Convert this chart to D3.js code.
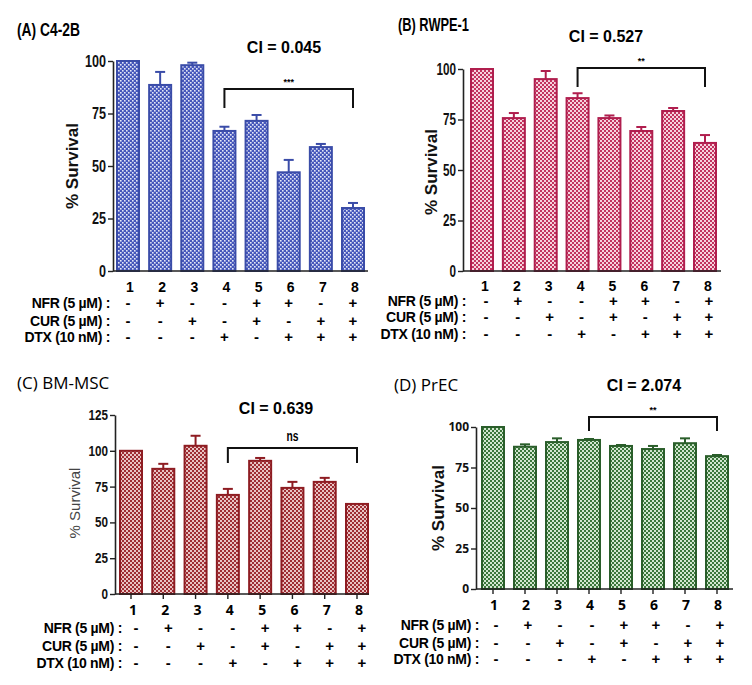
<!DOCTYPE html>
<html>
<head>
<meta charset="utf-8">
<script src="https://cdn.jsdelivr.net/npm/d3@7"></script>
<style>
  body { margin: 0; background: #fff; }
  svg { display: block; }
</style>
</head>
<body>
<div id="chart"></div>
<script>
// treatment groups and the +/- table under each panel
const groups = ["1", "2", "3", "4", "5", "6", "7", "8"];
const nfr = ["-", "+", "-", "-", "+", "+", "-", "+"];
const cur = ["-", "-", "+", "-", "+", "-", "+", "+"];
const dtx = ["-", "-", "-", "+", "-", "+", "+", "+"];
const rowNames = ["NFR (5 µM) :", "CUR (5 µM) :", "DTX (10 nM) :"];

// % survival (mean, upper error)
const c42bMean = [100, 88.6, 98, 66.7, 71.5, 47, 59, 30];
const c42bErr  = [0, 6.2, 1.2, 2, 2.8, 5.9, 1.5, 2.4];
const rwpeMean = [100, 75.7, 95, 85.6, 75.7, 69.3, 79.2, 63.4];
const rwpeErr  = [0, 2.5, 4, 2.4, 1.3, 2, 1.5, 3.9];
const bmscMean = [100, 87.4, 103.5, 69.2, 93, 74.1, 78.3, 62.9];
const bmscErr  = [0, 3.5, 7, 4.2, 2, 4.2, 2.8, 0];
const precMean = [100, 87.8, 90.7, 92, 88.3, 86.4, 90, 82];
const precErr  = [0, 1.5, 2.3, 0.6, 0.6, 1.9, 3, 0.7];

const ticks100 = [0, 25, 50, 75, 100];
const ticks125 = [0, 25, 50, 75, 100, 125];

const plain = "'Liberation Sans',Arial,sans-serif";
const open = "'Open Sans','Noto Sans',sans-serif";

const svg = d3.select("#chart").append("svg")
  .attr("width", 752)
  .attr("height", 685);

const defs = svg.append("defs");

function makePattern(id, dark, light, dot) {
  const p = defs.append("pattern")
    .attr("id", id)
    .attr("patternUnits", "userSpaceOnUse")
    .attr("width", 4).attr("height", 4);
  p.append("rect").attr("width", 4).attr("height", 4).attr("fill", dark);
  p.append("rect").attr("x", 0).attr("y", 0).attr("width", dot).attr("height", dot).attr("fill", light);
  p.append("rect").attr("x", 2).attr("y", 2).attr("width", dot).attr("height", dot).attr("fill", light);
}

makePattern("patA", "#4657bb", "#e4e7f7", 1.6);
makePattern("patB", "#c2335f", "#f6d3de", 2);
makePattern("patC", "#9e2d33", "#e9c4c4", 2);
makePattern("patD", "#3a763a", "#d2e6d0", 2);

// squeeze text to look like a condensed face (no narrow font installed)
function squeeze(sel, perChar) {
  sel.attr("textLength", function() { return this.textContent.length * perChar; })
    .attr("lengthAdjust", "spacingAndGlyphs");
}

const panels = [
  { title: "(A) C4-2B", narrow: true, titleW: 63, tx: 17, ty: 30,
    ci: "CI = 0.045", cix: 284, ciy: 47,
    mean: c42bMean, err: c42bErr, ticks: ticks100, yMax: 100,
    c1: 128, c8: 353, x0: 113, x1: 368, y0: 271, yTop: 61, barW: 22,
    color: "#3a4ca8", fill: "url(#patA)", tickSize: 16, tickChar: 7,
    ylab: { x: 72, y: 166, weight: "bold", size: 17 },
    xTicks: false, numY: 287, numDx: 2, numFont: plain,
    rowEnd: 110, rowsY: [303, 321, 337], colDx: 0,
    sig: "***", sigFont: 9, by: 89, bd: 19 },
  { title: "(B) RWPE-1", narrow: true, titleW: 71, tx: 398, ty: 25,
    ci: "CI = 0.527", cix: 606, ciy: 36,
    mean: rwpeMean, err: rwpeErr, ticks: ticks100, yMax: 100,
    c1: 482, c8: 705, x0: 463, x1: 721, y0: 271, yTop: 69, barW: 22,
    color: "#b01e4e", fill: "url(#patB)", tickSize: 16, tickChar: 6.5,
    ylab: { x: 431, y: 172, weight: "bold", size: 17 },
    xTicks: false, numY: 286, numDx: 3, numFont: plain,
    rowEnd: 466, rowsY: [301, 317, 334], colDx: 4,
    sig: "**", sigFont: 9, by: 68, bd: 19 },
  { title: "(C) BM-MSC", narrow: false, tx: 17, ty: 383,
    ci: "CI = 0.639", cix: 276, ciy: 408,
    mean: bmscMean, err: bmscErr, ticks: ticks125, yMax: 125,
    c1: 131, c8: 357, x0: 115, x1: 369, y0: 594, yTop: 415, barW: 22,
    color: "#8e1c22", fill: "url(#patC)", tickSize: 14, tickChar: 6.5,
    ylab: { x: 75, y: 503, weight: "normal", size: 15 },
    xTicks: true, numY: 610, numDx: 2, numFont: open,
    rowEnd: 122, rowsY: [628, 646, 663], colDx: 5,
    sig: "ns", sigFont: 14, by: 448, bd: 15 },
  { title: "(D) PrEC", narrow: false, tx: 394, ty: 385,
    ci: "CI = 2.074", cix: 644, ciy: 385,
    mean: precMean, err: precErr, ticks: ticks100, yMax: 100,
    c1: 493, c8: 717, x0: 476, x1: 733, y0: 589, yTop: 427, barW: 22,
    color: "#2a5e2a", fill: "url(#patD)", tickSize: 12, tickChar: 0,
    ylab: { x: 438, y: 508, weight: "bold", size: 17 },
    xTicks: true, numY: 605, numDx: 1, numFont: open,
    rowEnd: 479, rowsY: [625, 643, 659], colDx: 3,
    sig: "**", sigFont: 9, by: 417, bd: 14 }
];

panels.forEach(drawPanel);

function drawPanel(p) {
  const g = svg.append("g");
  const step = (p.c8 - p.c1) / 7;
  const pad = 1 - p.barW / step;

  const x = d3.scaleBand()
    .domain(groups)
    .range([p.c1 - step / 2, p.c8 + step / 2])
    .paddingInner(pad)
    .paddingOuter(pad / 2);

  const y = d3.scaleLinear()
    .domain([0, p.yMax])
    .range([p.y0, p.yTop]);

  const cx = d => x(d) + x.bandwidth() / 2;

  // title + CI
  const title = g.append("text")
    .attr("x", p.tx).attr("y", p.ty)
    .attr("dy", "0.35em")
    .style("font-family", p.narrow ? plain : open)
    .style("font-weight", p.narrow ? "bold" : "normal")
    .style("font-size", p.narrow ? "18px" : "17px")
    .text(p.title);
  if (p.narrow) title.attr("textLength", p.titleW).attr("lengthAdjust", "spacingAndGlyphs");

  g.append("text")
    .attr("x", p.cix).attr("y", p.ciy)
    .attr("dy", "0.35em")
    .attr("text-anchor", "middle")
    .style("font-family", plain)
    .style("font-weight", "bold")
    .style("font-size", "16px")
    .text(p.ci);

  // y axis
  const yAxis = d3.axisLeft(y).tickValues(p.ticks).tickSize(5).tickSizeOuter(0);
  const ya = g.append("g")
    .attr("transform", `translate(${p.x0},0)`)
    .call(yAxis);
  ya.select(".domain").attr("stroke", "#222").attr("stroke-width", 1.6);
  ya.selectAll(".tick line").attr("stroke", "#222").attr("stroke-width", 1.4);
  const tt = ya.selectAll(".tick text")
    .attr("x", -7)
    .style("font-family", p.narrow || p.tickChar ? plain : open)
    .style("font-weight", "bold")
    .style("font-size", p.tickSize + "px")
    .attr("fill", "#111");
  if (p.tickChar) squeeze(tt, p.tickChar);

  g.append("text")
    .attr("transform", `translate(${p.ylab.x},${p.ylab.y}) rotate(-90)`)
    .attr("text-anchor", "middle")
    .attr("dy", "0.35em")
    .style("font-family", plain)
    .style("font-weight", p.ylab.weight)
    .style("font-size", p.ylab.size + "px")
    .attr("fill", p.ylab.weight === "bold" ? "#111" : "#444")
    .text("% Survival");

  // bars
  g.append("g")
    .selectAll("rect")
    .data(groups)
    .join("rect")
    .attr("x", d => x(d))
    .attr("y", (d, i) => y(p.mean[i]))
    .attr("width", x.bandwidth())
    .attr("height", (d, i) => p.y0 - y(p.mean[i]))
    .attr("fill", p.fill)
    .attr("stroke", p.color)
    .attr("stroke-width", 2);

  // error bars (upper only)
  const top = i => y(p.mean[i] + p.err[i]);
  const eb = g.append("g")
    .attr("stroke", p.color)
    .attr("stroke-width", 2)
    .selectAll("g")
    .data(groups.map((d, i) => i).filter(i => p.err[i] > 0))
    .join("g");
  eb.append("line")
    .attr("x1", i => cx(groups[i])).attr("x2", i => cx(groups[i]))
    .attr("y1", i => y(p.mean[i]))
    .attr("y2", top);
  eb.append("line")
    .attr("x1", i => cx(groups[i]) - 5).attr("x2", i => cx(groups[i]) + 5)
    .attr("y1", top)
    .attr("y2", top);

  // x axis line
  g.append("line")
    .attr("x1", p.x0).attr("x2", p.x1)
    .attr("y1", p.y0).attr("y2", p.y0)
    .attr("stroke", "#222").attr("stroke-width", 1.6);

  if (p.xTicks) {
    g.append("g").selectAll("line")
      .data(groups)
      .join("line")
      .attr("x1", cx).attr("x2", cx)
      .attr("y1", p.y0).attr("y2", p.y0 + 5)
      .attr("stroke", "#222").attr("stroke-width", 1.4);
  }

  // group numbers
  g.append("g").selectAll("text")
    .data(groups)
    .join("text")
    .attr("x", d => cx(d) + p.numDx)
    .attr("y", p.numY)
    .attr("dy", "0.35em")
    .attr("text-anchor", "middle")
    .style("font-family", p.numFont)
    .style("font-weight", "bold")
    .style("font-size", "14px")
    .text(d => d);

  // treatment table
  [nfr, cur, dtx].forEach((row, r) => {
    g.append("text")
      .attr("x", p.rowEnd).attr("y", p.rowsY[r])
      .attr("dy", "0.35em")
      .attr("text-anchor", "end")
      .style("font-family", plain)
      .style("font-weight", "bold")
      .style("font-size", "14px")
      .style("letter-spacing", "-0.3px")
      .text(rowNames[r]);
    g.append("g").selectAll("text")
      .data(row)
      .join("text")
      .attr("x", (d, i) => cx(groups[i]) + p.colDx)
      .attr("y", p.rowsY[r])
      .attr("dy", "0.35em")
      .attr("text-anchor", "middle")
      .style("font-family", plain)
      .style("font-weight", "bold")
      .style("font-size", "15px")
      .text(d => d);
  });

  // significance bracket between group 4 and group 8
  const bx1 = cx(groups[3]);
  const bx2 = cx(groups[7]);
  g.append("path")
    .attr("d", `M${bx1},${p.by + p.bd}V${p.by}H${bx2}V${p.by + p.bd}`)
    .attr("fill", "none")
    .attr("stroke", "#111")
    .attr("stroke-width", 2);
  const sig = g.append("text")
    .attr("x", (bx1 + bx2) / 2)
    .attr("y", p.by - 7)
    .attr("text-anchor", "middle")
    .style("font-family", plain)
    .style("font-weight", "bold")
    .style("font-size", p.sigFont + "px")
    .attr("dy", p.sig === "ns" ? "0" : "0.35em")
    .text(p.sig);
  if (p.sig === "ns") squeeze(sig, 6);
}
</script>
</body>
</html>
